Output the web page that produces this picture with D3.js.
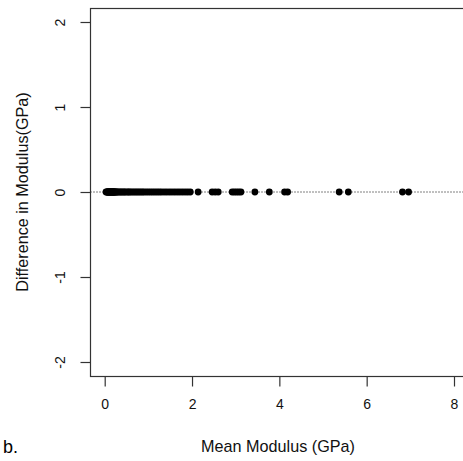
<!DOCTYPE html>
<html>
<head>
<meta charset="utf-8">
<script src="https://cdn.jsdelivr.net/npm/d3@7"></script>
<style>
  html, body { margin: 0; padding: 0; background: #fff; overflow: hidden; }
  svg { display: block; }
</style>
</head>
<body>
<svg id="chart" width="463" height="461"></svg>
<script>
// ---- data ----
const meanModulus = [
  0.03, 0.05, 0.06, 0.07, 0.08, 0.09, 0.10, 0.11, 0.12, 0.13, 0.14, 0.15, 0.16, 0.17,
  0.18, 0.19, 0.20, 0.21, 0.22, 0.23, 0.24, 0.26, 0.28, 0.30, 0.33, 0.36, 0.39, 0.42,
  0.45, 0.48, 0.52, 0.55, 0.58, 0.62, 0.66, 0.70, 0.74, 0.78, 0.82, 0.86, 0.90, 0.95,
  1.00, 1.05, 1.10, 1.15, 1.20, 1.25, 1.30, 1.36, 1.42, 1.48, 1.54, 1.60, 1.66, 1.72,
  1.78, 1.84, 1.90, 1.96, 2.14, 2.46, 2.53, 2.60, 2.92, 2.97, 3.02, 3.07, 3.12, 3.44,
  3.77, 4.12, 4.19, 5.37, 5.58, 6.82, 6.96
];
const difference = meanModulus.map(() => 0);
const xTicks = [0, 2, 4, 6, 8];
const yTicks = [-2, -1, 0, 1, 2];
const xTitle = "Mean Modulus (GPa)";
const yTitle = "Difference in Modulus(GPa)";
const panelLabel = "b.";

(function () {
// ---- layout ----
const svg = d3.select("#chart");
const boxL = 90.5, boxT = 8.5, boxB = 376.5, boxR = 480;
const x = d3.scaleLinear().domain([0, 8]).range([104.7, 454]);
const y = d3.scaleLinear().domain([-2, 2]).range([362, 22]);
const font = "Liberation Sans, Arial, Helvetica, sans-serif";

// dotted zero line
svg.append("line")
  .attr("x1", boxL).attr("x2", boxR)
  .attr("y1", y(0)).attr("y2", y(0))
  .attr("stroke", "#000").attr("stroke-width", 1)
  .attr("stroke-dasharray", "1,2");

// points
svg.append("g").selectAll("circle")
  .data(meanModulus)
  .join("circle")
  .attr("cx", d => x(d))
  .attr("cy", (d, i) => y(difference[i]))
  .attr("r", 3.4)
  .attr("fill", "#000");

// box
svg.append("rect")
  .attr("x", boxL).attr("y", boxT)
  .attr("width", boxR - boxL).attr("height", boxB - boxT)
  .attr("fill", "none").attr("stroke", "#333").attr("stroke-width", 1.2);

// x axis
const xAxis = d3.axisBottom(x).tickValues(xTicks).tickSize(10).tickPadding(13)
  .tickFormat(d => String(d));
const gx = svg.append("g").attr("transform", `translate(0,${boxB})`).call(xAxis);
gx.select(".domain").remove();
gx.selectAll(".tick line").attr("stroke", "#333").attr("stroke-width", 1.2);
gx.selectAll(".tick text").attr("font-family", font).attr("font-size", 14).attr("fill", "#111");

// y axis
const yAxis = d3.axisLeft(y).tickValues(yTicks).tickSize(10).tickPadding(0)
  .tickFormat(d => String(d));
const gy = svg.append("g").attr("transform", `translate(${boxL},0)`).call(yAxis);
gy.select(".domain").remove();
gy.selectAll(".tick line").attr("stroke", "#333").attr("stroke-width", 1.2);
gy.selectAll(".tick text")
  .attr("font-family", font).attr("font-size", 14).attr("fill", "#111")
  .attr("x", null).attr("dy", null)
  .attr("text-anchor", "middle")
  .attr("dominant-baseline", "central")
  .attr("transform", "translate(-31,0) rotate(-90)");

// titles
svg.append("text")
  .attr("x", 278).attr("y", 452)
  .attr("text-anchor", "middle")
  .attr("font-family", font).attr("font-size", 16.2).attr("fill", "#111")
  .text(xTitle);

svg.append("text")
  .attr("transform", `translate(22,${y(0)}) rotate(-90)`)
  .attr("text-anchor", "middle")
  .attr("dominant-baseline", "central")
  .attr("font-family", font).attr("font-size", 16.2).attr("fill", "#111")
  .text(yTitle);

svg.append("text")
  .attr("x", 3).attr("y", 453)
  .attr("text-anchor", "start")
  .attr("font-family", font).attr("font-size", 18).attr("fill", "#000")
  .text(panelLabel);
})();
</script>
</body>
</html>
